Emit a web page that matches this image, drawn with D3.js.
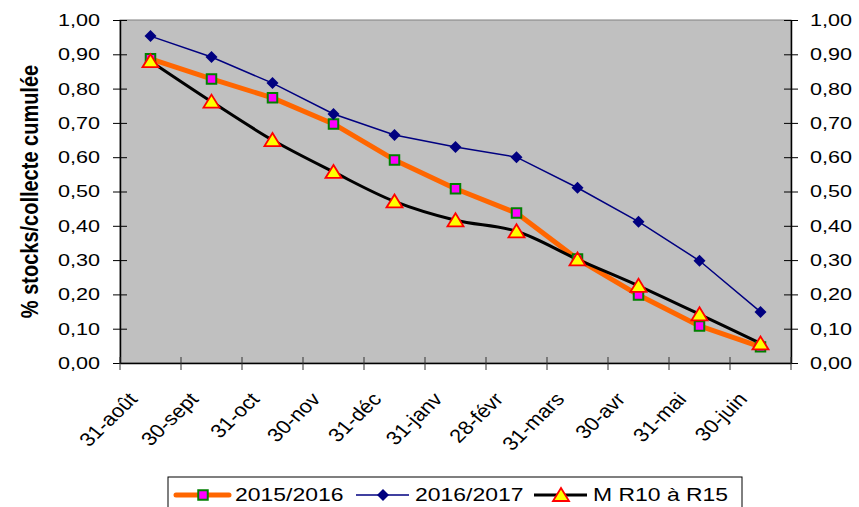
<!DOCTYPE html>
<html>
<head>
<meta charset="utf-8">
<script src="https://cdn.jsdelivr.net/npm/d3@7"></script>
<style>
	body { margin: 0; background: #fff; }
	text { font-family: 'Liberation Sans', Arial, sans-serif; fill: #000; }
</style>
</head>
<body>
<svg id="chart" width="859" height="507"></svg>
<script>
var categories = ['31-août', '30-sept', '31-oct', '30-nov', '31-déc', '31-janv', '28-févr', '31-mars', '30-avr', '31-mai', '30-juin'];
var serie2015 = [0.887, 0.828, 0.773, 0.697, 0.592, 0.508, 0.437, 0.303, 0.198, 0.108, 0.047];
var serie2016 = [0.953, 0.892, 0.816, 0.726, 0.665, 0.630, 0.600, 0.511, 0.412, 0.298, 0.149];
var serieMoy = [0.880, 0.762, 0.650, 0.557, 0.471, 0.416, 0.384, 0.302, 0.225, 0.142, 0.057];
var yTicks = [0, 0.1, 0.2, 0.3, 0.4, 0.5, 0.6, 0.7, 0.8, 0.9, 1.0];
var seriesNames = ['2015/2016', '2016/2017', 'M R10 à R15'];

var svg = d3.select('#chart'),
	margin = { top: 20, right: 68, bottom: 144, left: 120 },
	width = +svg.attr('width') - margin.left - margin.right,
	height = +svg.attr('height') - margin.top - margin.bottom,
	g = svg.append('g').attr('transform', 'translate(' + margin.left + ',' + margin.top + ')');

var scaleX = d3.scaleBand().domain(categories).range([0, width]);
var scaleY = d3.scaleLinear().domain([0, 1]).range([height, 0]);
var fmt = function (d) { return d3.format('.2f')(d).replace('.', ','); };

// the original picture is a little stretched sideways, so the text is too
var stretch = 1.27;

// plot area
g.append('rect')
	.attr('width', width)
	.attr('height', height)
	.attr('fill', '#c0c0c0')
	.attr('stroke', '#808080')
	.attr('stroke-width', 1);

// axes
var yLeft = g.append('g')
	.call(d3.axisLeft(scaleY).tickValues(yTicks).tickFormat(fmt).tickSizeOuter(0));
var yRight = g.append('g')
	.attr('transform', 'translate(' + width + ',0)')
	.call(d3.axisRight(scaleY).tickValues(yTicks).tickFormat(fmt).tickSizeOuter(0));
[yLeft, yRight].forEach(function (ax, k) {
	ax.selectAll('.tick line').attr('x1', -7).attr('x2', 7).attr('stroke', '#000');
	ax.select('.domain').attr('stroke', '#000').attr('stroke-width', 1.5);
	ax.selectAll('text')
		.style('font-size', '17px')
		.attr('font-family', null)
		.attr('x', 0)
		.attr('transform', 'translate(' + (k === 0 ? -20 : 19) + ',0) scale(' + stretch + ',1)');
});

var xAxis = g.append('g')
	.attr('transform', 'translate(0,' + height + ')')
	.call(d3.axisBottom(scaleX).tickSize(0).tickFormat(function (d) { return d; }));
xAxis.select('.domain').attr('stroke', '#000').attr('stroke-width', 1.5);
xAxis.selectAll('.tick text')
	.style('font-size', '19px')
	.attr('font-family', null)
	.attr('text-anchor', 'end')
	.attr('dy', null)
	.attr('y', 0)
	.attr('transform', 'translate(-12,37) scale(1.15,1) rotate(-48)');

// category tick marks on the boundaries
var bounds = categories.map(function (c) { return scaleX(c); }).concat([width]);
g.append('g').selectAll('line').data(bounds).join('line')
	.attr('x1', function (d) { return d; })
	.attr('x2', function (d) { return d; })
	.attr('y1', height - 6)
	.attr('y2', height + 7)
	.attr('stroke', '#333')
	.attr('stroke-width', 1);

svg.append('text')
	.attr('transform', 'translate(38,' + (margin.top + height / 2) + ') scale(1.2,1) rotate(-90)')
	.attr('text-anchor', 'middle')
	.style('font-size', '20px')
	.style('font-weight', 'bold')
	.text('% stocks/collecte cumulée');

var cx = function (d, i) { return scaleX(categories[i]) + scaleX.bandwidth() / 2; };

var line = d3.line().x(cx).y(function (d) { return scaleY(d); });
var smooth = d3.line().x(cx).y(function (d) { return scaleY(d); }).curve(d3.curveCatmullRom);

var square = d3.symbol().type(d3.symbolSquare).size(90);
var diamond = function (s) { return 'M0,' + (-s) + 'L' + s + ',0L0,' + s + 'L' + (-s) + ',0Z'; };
var triangle = 'M0,-7L8,6L-8,6Z';

// 2015/2016
g.append('path').datum(serie2015)
	.attr('fill', 'none').attr('stroke', '#ff6600').attr('stroke-width', 5).attr('stroke-linejoin', 'round')
	.attr('d', line);
// 2016/2017
g.append('path').datum(serie2016)
	.attr('fill', 'none').attr('stroke', '#000080').attr('stroke-width', 1.5)
	.attr('d', line);
// M R10 a R15
g.append('path').datum(serieMoy)
	.attr('fill', 'none').attr('stroke', '#000').attr('stroke-width', 3)
	.attr('d', smooth);

g.append('g').selectAll('path').data(serie2015).join('path')
	.attr('transform', function (d, i) { return 'translate(' + cx(d, i) + ',' + scaleY(d) + ')'; })
	.attr('d', square)
	.attr('fill', '#ff00ff').attr('stroke', '#008000').attr('stroke-width', 2);
g.append('g').selectAll('path').data(serie2016).join('path')
	.attr('transform', function (d, i) { return 'translate(' + cx(d, i) + ',' + scaleY(d) + ')'; })
	.attr('d', diamond(6))
	.attr('fill', '#000080');
g.append('g').selectAll('path').data(serieMoy).join('path')
	.attr('transform', function (d, i) { return 'translate(' + cx(d, i) + ',' + scaleY(d) + ')'; })
	.attr('d', triangle)
	.attr('fill', '#ffff00').attr('stroke', '#ff0000').attr('stroke-width', 1.8).attr('stroke-linejoin', 'miter');

// legend
var legend = svg.append('g').attr('transform', 'translate(168,477)');
legend.append('rect')
	.attr('width', 574).attr('height', 40)
	.attr('fill', '#fff').attr('stroke', '#000').attr('stroke-width', 1);

var legendItems = [
	{ x: 8, name: seriesNames[0], color: '#ff6600', w: 5 },
	{ x: 188, name: seriesNames[1], color: '#000080', w: 1.5 },
	{ x: 366, name: seriesNames[2], color: '#000', w: 3 }
];
var ly = 18;
legendItems.forEach(function (it, i) {
	legend.append('line')
		.attr('x1', it.x).attr('x2', it.x + 53).attr('y1', ly).attr('y2', ly)
		.attr('stroke', it.color).attr('stroke-width', it.w).attr('stroke-linecap', i === 0 ? 'round' : 'butt');
	var m = legend.append('path').attr('transform', 'translate(' + (it.x + 27) + ',' + ly + ')');
	if (i === 0) m.attr('d', square).attr('fill', '#ff00ff').attr('stroke', '#008000').attr('stroke-width', 2);
	if (i === 1) m.attr('d', diamond(6)).attr('fill', '#000080');
	if (i === 2) m.attr('d', triangle).attr('fill', '#ffff00').attr('stroke', '#ff0000').attr('stroke-width', 1.8);
	legend.append('text')
		.attr('transform', 'translate(' + (it.x + 59) + ',' + ly + ') scale(1.24,1)')
		.attr('dy', '0.35em')
		.style('font-size', '18.5px')
		.text(it.name);
});
</script>
</body>
</html>
